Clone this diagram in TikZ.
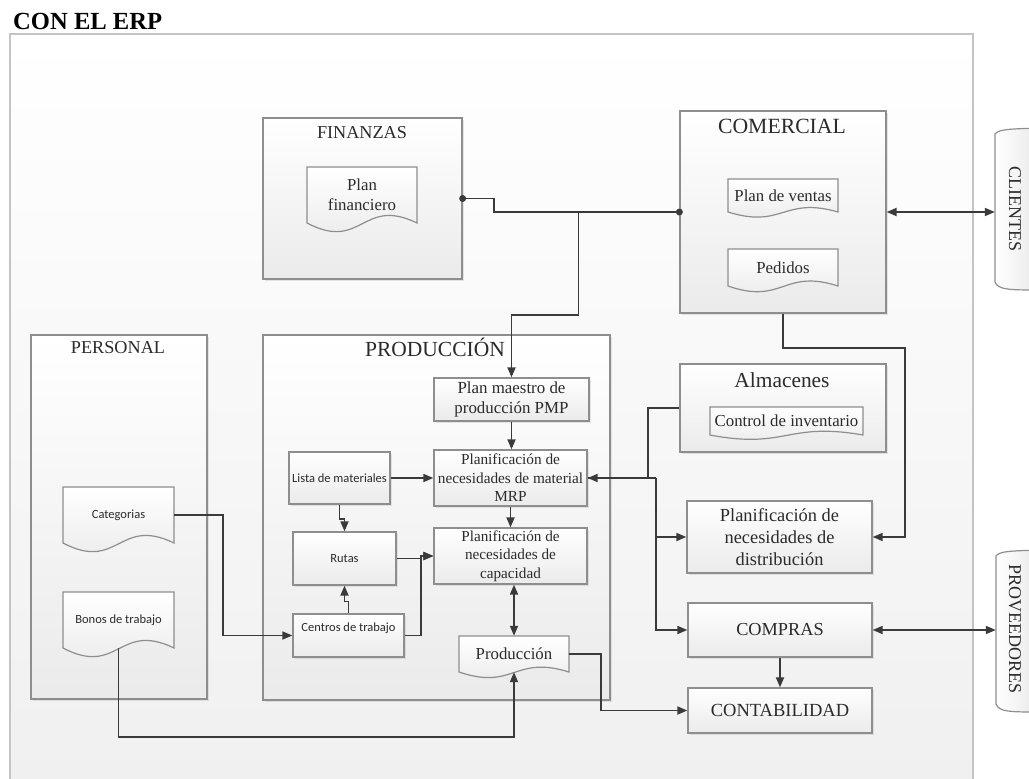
\documentclass[tikz,border=0pt]{standalone}
\usepackage{fontspec}
\usepackage{graphicx}
\setmainfont{Liberation Serif}
\newfontfamily\sansfnt{Carlito}
\usetikzlibrary{arrows.meta,calc,shadows}

\definecolor{linec}{HTML}{3A3A3A}
\definecolor{edgec}{HTML}{8E8E8E}
\definecolor{framec}{HTML}{C4C4C4}
\definecolor{txtc}{HTML}{2B2B2B}

\tikzset{
  every node/.style={text=txtc},
  % a rectangle given by its corners x1/y1/x2/y2
  boxspan/.style args={#1/#2/#3/#4}{minimum width={#3-#1}, minimum height={#4-#2},
    at={({(#1+#3)/2},{(#2+#4)/2})}},
  panel/.style={draw=edgec, line width=1.3pt, top color=white, bottom color=black!8,
    inner sep=0pt, drop shadow={shadow xshift=1.5pt, shadow yshift=-1.5pt, opacity=0.18}},
  stepbox/.style={panel, align=center},
  docfill/.style={draw=edgec, line width=1.2pt, top color=white, bottom color=black!9},
  tabfill/.style={draw=edgec, line width=1.2pt, left color=white, right color=black!9},
  doctext/.style={inner sep=0pt, align=center, font=\fontsize{16.8}{20.5}\selectfont},
  smalltext/.style={font=\sansfnt\fontsize{12.5}{15}\selectfont},
  framebox/.style={draw=framec, line width=2pt, top color=white, bottom color=black!6, inner sep=0pt},
  conn/.style={draw=linec, line width=1.7pt},
  arr/.style={conn, -{Triangle[length=10pt,width=8pt]}},
  darr/.style={conn, {Triangle[length=10pt,width=8pt]}-{Triangle[length=10pt,width=8pt]}},
  dot/.style={circle, fill=linec, inner sep=0pt, minimum size=7pt},
  ttl/.style={anchor=base, inner sep=0pt},
}

% document symbol: straight top and sides, wavy bottom edge
\newcommand\docnode[6]{%
  \path[docfill] (#2,#3) -- (#4,#3) -- (#4,#5)
    .. controls ({(#2+#4)/2},{#5-0.48*(#5-#3)}) and ({(#2+#4)/2},{#5+0.52*(#5-#3)}) .. (#2,#5) -- cycle;
  \node[doctext, boxspan=#2/#3/#4/#5] (#1) {#6};
}

\begin{document}
\begin{tikzpicture}[x=1pt,y=-1pt]
\useasboundingbox (0,0) rectangle (1029,779);

% heading and outer frame
\node[anchor=base west, inner sep=0pt, font=\bfseries\fontsize{24.6}{28}\selectfont, text=black] (hdr) at (13,30) {CON EL ERP};
\node[framebox, boxspan=10/34/973/800] (erp) {};

% departments
\node[panel, boxspan=263/118/462/279] (fin) {};
\node[ttl, font=\fontsize{18.2}{20}\selectfont] (finT) at (362,138) {FINANZAS};
\node[panel, boxspan=680/111/886/313] (com) {};
\node[ttl, font=\fontsize{21.7}{24}\selectfont] (comT) at (782,133) {COMERCIAL};
\node[panel, boxspan=31/335/207/699] (per) {};
\node[ttl, font=\fontsize{18.2}{20}\selectfont] (perT) at (118,353) {PERSONAL};
\node[panel, boxspan=263/335/610/700] (pro) {};
\node[ttl, font=\fontsize{21.5}{24}\selectfont] (proT) at (435,356) {PRODUCCIÓN};
\node[panel, boxspan=680/364/886/452] (alm) {};
\node[ttl, font=\fontsize{21.4}{24}\selectfont] (almT) at (782,387) {Almacenes};

% documents
\docnode{pf}{307}{167}{417}{223}{Plan\\financiero}
\docnode{pv}{728}{179}{838}{212}{Plan de ventas}
\docnode{ped}{728}{249}{838}{286}{Pedidos}
\docnode{ci}{710}{407}{863}{435}{Control de inventario}
\docnode{cat}{63}{487}{174}{543}{\sansfnt\fontsize{12.5}{15}\selectfont Categorias}
\docnode{bon}{63}{592}{174}{648}{\sansfnt\fontsize{12.5}{15}\selectfont Bonos de trabajo}
\docnode{prd}{459}{636}{569}{672}{Producción}

% process steps
\node[stepbox, boxspan=434/378/589/421, font=\fontsize{16.9}{20}\selectfont] (pmp) {Plan maestro de\\producción PMP};
\node[stepbox, boxspan=434/450/587/506, font=\fontsize{15.3}{18.5}\selectfont] (mrp) {Planificación de\\necesidades de material\\MRP};
\node[stepbox, boxspan=434/528/587/584, font=\fontsize{15.2}{18.5}\selectfont] (cap) {Planificación de\\necesidades de\\capacidad};
\node[stepbox, smalltext, boxspan=289/452/390/504] (lis) {Lista de materiales};
\node[stepbox, smalltext, boxspan=293/532/396/585] (rut) {Rutas};
\node[stepbox, smalltext, text height=9pt, text depth=18pt, boxspan=293/614/404/657] (cen) {Centros de trabajo};
\node[stepbox, boxspan=687/501/872/573, font=\fontsize{18.4}{22}\selectfont] (pnd) {Planificación de\\necesidades de\\distribución};
\node[stepbox, boxspan=688/603/872/657, font=\fontsize{18.3}{20}\selectfont] (cmp) {COMPRAS};
\node[stepbox, boxspan=688/688/872/733, font=\fontsize{18.5}{20}\selectfont] (cnt) {CONTABILIDAD};

% external parties
\path[tabfill] (995,134) .. controls (999,129) and (1010,129) .. (1040,128) -- (1040,290)
  .. controls (1010,290) and (998,290) .. (995,282) -- cycle;
\node[inner sep=0pt, boxspan=995/130/1035/288] (cli) {\rotatebox{-90}{\fontsize{18}{20}\selectfont CLIENTES}};
\path[tabfill] (996,556) .. controls (1000,551) and (1010,551) .. (1040,550) -- (1040,712)
  .. controls (1010,712) and (999,712) .. (996,704) -- cycle;
\node[inner sep=0pt, boxspan=996/550/1034/708] (prv) {\rotatebox{-90}{\fontsize{18}{20}\selectfont PROVEEDORES}};

% information flows
\draw[conn] (fin.east) -- ++(31,0) |- (com.west);
\node[dot] (d1) at (fin.east) {};
\node[dot] (d2) at (com.west) {};
\coordinate (j1) at ($(com.west)+(-101,0)$);
\draw[arr] (j1) -- ++(0,103) -| (pmp.north);
\draw[darr] (com.east) -- (com.east -| cli.west);

\draw[arr] (pmp.south) -- (pmp.south |- mrp.north);
\draw[arr] (mrp.south) -- (cap.north);
\draw[darr] (prd.north) -- (prd.north |- cap.south);
\draw[arr] (lis.east) -- (lis.east -| mrp.west);
\draw[arr] (lis.south) -- ++(0,14) -| (rut.north);
\draw[arr] (cen.north) -- ++(0,-12) -| (rut.south);
\draw[arr] (rut.east) -- ++(24,0) |- (cap.west);
\draw[arr] (cen.east) -- ++(16,0) |- (cap.west);
\draw[arr] (cat.east) -- ++(49,0) |- (cen.west);
\draw[arr] (bon.south) -- ++(0,89) -| (prd.south);
\draw[arr] (prd.east) -- ++(32,0) |- (cnt.west);

\coordinate (j2) at ($(mrp.east)+(68,0)$);
\draw[arr] (alm.west) -| ($(mrp.east)+(60,0)$) -- (mrp.east);
\draw[conn] (mrp.east) -- (j2);
\draw[arr] (j2) |- (cmp.west);
\draw[arr] (j2 |- pnd.west) -- (pnd.west);
\draw[arr] (com.south) -- ++(0,34) -- ++(122,0) |- (pnd.east);

\draw[darr] (cmp.east) -- (cmp.east -| prv.west);
\draw[arr] (cmp.south) -- (cnt.north);
\end{tikzpicture}
\end{document}
